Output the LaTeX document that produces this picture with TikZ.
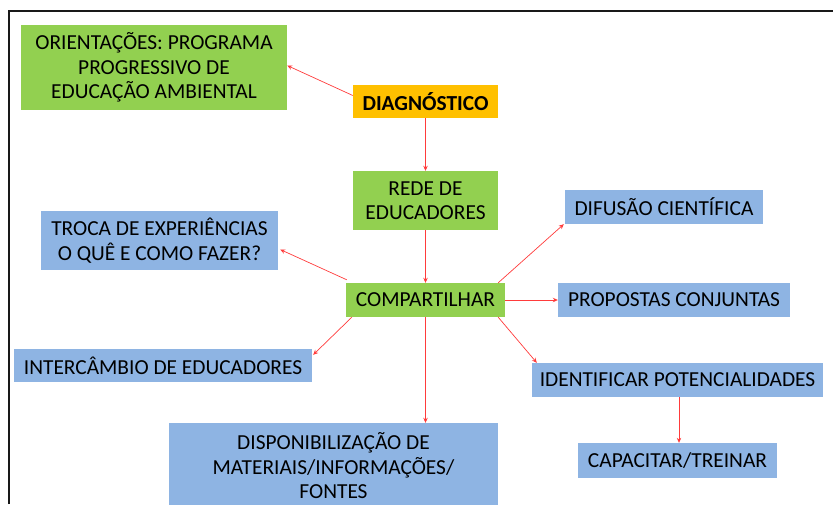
\documentclass[tikz,border=0pt]{standalone}
\usepackage{fontspec}
\setmainfont{Carlito}
\usetikzlibrary{arrows.meta,calc}
\definecolor{bgreen}{HTML}{92D050}
\definecolor{borange}{HTML}{FFC000}
\definecolor{bblue}{HTML}{8EB4E3}
\definecolor{arr}{HTML}{FF3B3B}
\begin{document}
\begin{tikzpicture}[x=1pt,y=-1pt,
  box/.style={inner sep=0pt,align=center,font=\fontsize{21.4}{24.5}\selectfont,text=black},
  gbox/.style={box,fill=bgreen},
  obox/.style={box,fill=borange,font=\fontsize{21.4}{24.5}\selectfont\bfseries},
  blbox/.style={box,fill=bblue},
  conn/.style={draw=arr,line width=0.7pt,-{Stealth[length=5pt,width=4.5pt]}}]
\useasboundingbox (0,0) rectangle (833,504);
% frame
\draw[line width=2.6pt,black!90] (9,504) -- (9,11) -- (833,11);
% nodes
\node[gbox,minimum width=266pt,minimum height=85pt] (orient) at (154,67.5) {ORIENTAÇÕES: PROGRAMA\\PROGRESSIVO DE\\EDUCAÇÃO AMBIENTAL};
\node[obox,minimum width=145pt,minimum height=33pt] (diag) at (425.5,101.5) {DIAGNÓSTICO};
\node[gbox,minimum width=145pt,minimum height=59pt] (rede) at (425.5,200.5) {REDE DE\\EDUCADORES};
\node[blbox,minimum width=237pt,minimum height=59pt] (troca) at (159.5,240.5) {TROCA DE EXPERIÊNCIAS\\O QUÊ E COMO FAZER?};
\node[gbox,minimum width=159pt,minimum height=34pt] (comp) at (425.5,300) {COMPARTILHAR};
\node[blbox,minimum width=298pt,minimum height=33pt] (interc) at (163,365.5) {INTERCÂMBIO DE EDUCADORES};
\node[blbox,minimum width=198pt,minimum height=34pt] (difus) at (664,207) {DIFUSÃO CIENTÍFICA};
\node[blbox,minimum width=232pt,minimum height=34pt] (prop) at (674,300) {PROPOSTAS CONJUNTAS};
\node[blbox,minimum width=291pt,minimum height=34pt] (ident) at (677.5,380) {IDENTIFICAR POTENCIALIDADES};
\node[blbox,minimum width=329pt,minimum height=86pt] (disp) at (333.5,466) {DISPONIBILIZAÇÃO DE\\MATERIAIS/INFORMAÇÕES/\\FONTES};
\node[blbox,minimum width=199pt,minimum height=35pt] (capac) at (677.5,460.5) {CAPACITAR/TREINAR};
% connectors
\draw[conn] ($(diag.west)+(0,-6)$) -- ($(orient.east)+(0,-2)$);
\draw[conn] (diag.south) -- (rede.north);
\draw[conn] (rede.south) -- (comp.north);
\draw[conn] ($(comp.north west)+(1,-3)$) -- ($(troca.east)+(2,9)$);
\draw[conn] ($(comp.south west)+(6,0)$) -- ($(interc.north east)+(1,6)$);
\draw[conn] ($(comp.north east)+(-7,0)$) -- ($(difus.south west)+(-1,0)$);
\draw[conn] (comp.east) -- (prop.west);
\draw[conn] ($(comp.south east)+(-7,0)$) -- ($(ident.north west)+(5,0)$);
\draw[conn] (comp.south) -- (comp.south |- disp.north);
\draw[conn] ($(ident.south)+(1.5,0)$) -- ($(capac.north)+(1.5,0)$);
\end{tikzpicture}
\end{document}
